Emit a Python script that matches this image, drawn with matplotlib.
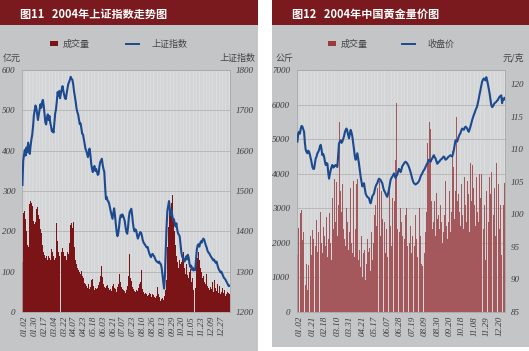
import matplotlib.pyplot as plt
from matplotlib.patches import Rectangle
from matplotlib.lines import Line2D

plt.rcParams['font.family'] = ['Noto Sans CJK SC', 'DejaVu Sans']

# ---- 图11 上证指数 (daily, 2004) ----
sh_dates = ['01.02', '01.30', '02.17', '03.04', '03.22', '04.07', '04.23', '05.18', '06.03', '06.21', '07.07',
            '07.23', '08.10', '08.26', '09.13', '09.29', '10.20', '11.05', '11.23', '12.09', '12.27']
sh_index = [1515, 1575, 1590, 1602, 1588, 1608, 1596, 1620, 1605, 1592,
            1612, 1628, 1640, 1660, 1688, 1700, 1712, 1705, 1690, 1676,
            1690, 1702, 1715, 1706, 1720, 1726, 1712, 1692, 1670, 1665,
            1682, 1690, 1676, 1686, 1670, 1660, 1648, 1652, 1645, 1668,
            1692, 1702, 1722, 1745, 1736, 1748, 1730, 1742, 1752, 1760,
            1748, 1738, 1730, 1728, 1742, 1754, 1765, 1770, 1776, 1783,
            1778, 1776, 1765, 1748, 1735, 1722, 1706, 1696, 1690, 1678,
            1666, 1668, 1655, 1642, 1640, 1628, 1615, 1605, 1600, 1592,
            1584, 1595, 1605, 1590, 1568, 1555, 1547, 1558, 1562, 1550,
            1555, 1548, 1540, 1542, 1560, 1572, 1575, 1580, 1565, 1555,
            1547, 1510, 1480, 1485, 1476, 1474, 1468, 1458, 1448, 1440,
            1431, 1445, 1457, 1440, 1420, 1400, 1388, 1395, 1410, 1430,
            1440, 1436, 1442, 1438, 1432, 1425, 1410, 1398, 1394, 1410,
            1435, 1448, 1452, 1456, 1440, 1420, 1406, 1400, 1405, 1402,
            1390, 1382, 1388, 1394, 1398, 1396, 1388, 1378, 1372, 1369,
            1366, 1362, 1360, 1361, 1352, 1345, 1340, 1336, 1342, 1344,
            1340, 1338, 1332, 1328, 1325, 1324, 1322, 1325, 1320, 1319,
            1310, 1292, 1275, 1258, 1290, 1350, 1410, 1450, 1462, 1475,
            1455, 1440, 1452, 1440, 1428, 1430, 1420, 1412, 1420, 1405,
            1395, 1392, 1388, 1370, 1350, 1338, 1335, 1330, 1325, 1332,
            1338, 1330, 1342, 1335, 1320, 1312, 1315, 1305, 1310, 1303,
            1306, 1304, 1330, 1355, 1365, 1368, 1362, 1370, 1375, 1372,
            1378, 1382, 1379, 1372, 1365, 1360, 1352, 1348, 1346, 1342,
            1338, 1335, 1332, 1328, 1330, 1326, 1322, 1325, 1318, 1310,
            1305, 1302, 1298, 1300, 1295, 1290, 1285, 1283, 1280, 1276,
            1272, 1268, 1264, 1265]
sh_volume = [125, 245, 238, 250, 230, 200, 165, 160, 170, 268,
             275, 270, 262, 272, 225, 218, 222, 255, 260, 248,
             240, 230, 205, 195, 180, 165, 150, 142, 135, 140,
             132, 128, 138, 135, 130, 140, 155, 150, 138, 130,
             135, 150, 220, 175, 150, 140, 160, 0, 148, 158,
             150, 140, 145, 138, 130, 150, 145, 125, 170, 215,
             220, 208, 222, 200, 160, 130, 120, 110, 105, 100,
             98, 95, 102, 90, 80, 85, 72, 70, 65, 60,
             75, 70, 58, 62, 80, 72, 82, 65, 55, 60,
             58, 52, 60, 68, 75, 90, 80, 115, 88, 70,
             62, 60, 72, 65, 68, 60, 55, 62, 58, 52,
             65, 70, 60, 55, 58, 50, 62, 70, 82, 95,
             75, 62, 58, 55, 60, 52, 48, 55, 65, 75,
             90, 145, 85, 78, 62, 55, 58, 52, 50, 55,
             48, 52, 60, 70, 75, 105, 80, 58, 50, 45,
             48, 42, 45, 40, 42, 48, 44, 40, 38, 45,
             42, 36, 32, 35, 40, 62, 45, 38, 30, 28,
             32, 35, 30, 28, 40, 55, 80, 160, 210, 240,
             265, 255, 270, 290, 260, 225, 200, 165, 140, 124,
             0, 110, 130, 118, 125, 140, 115, 150, 110, 95,
             120, 105, 92, 85, 100, 107, 75, 60, 85, 55,
             0, 60, 120, 140, 135, 150, 128, 110, 95, 100,
             85, 90, 75, 80, 70, 95, 65, 60, 55, 70,
             62, 58, 75, 50, 55, 80, 60, 52, 70, 48,
             55, 65, 45, 50, 60, 42, 48, 55, 40, 45,
             50, 42, 48, 45]

# ---- 图12 黄金 (daily, 2004) ----
au_dates = ['01.02', '01.21', '02.18', '03.10', '03.31', '04.21', '05.17', '06.07', '06.28',
            '07.19', '08.09', '08.30', '09.20', '10.18', '11.08', '11.29', '12.20']
au_price = [111.2, 112.5, 112.7, 112.4, 113.2, 113.6, 113.5, 113.1, 112.7, 111.0,
            109.9, 109.6, 109.4, 109.8, 109.6, 109.2, 108.6, 108.0, 107.3, 107.0,
            107.0, 107.8, 108.6, 108.9, 109.4, 109.6, 109.9, 110.4, 110.7, 110.0,
            109.1, 109.3, 108.9, 108.2, 107.6, 107.9, 107.8, 106.5, 105.5, 106.2,
            106.8, 107.3, 107.6, 107.2, 107.3, 107.5, 107.6, 107.4, 107.3, 109.2,
            110.9, 111.2, 111.4, 111.0, 111.2, 111.6, 112.0, 112.6, 113.0, 113.2,
            112.8, 112.2, 111.7, 112.4, 113.0, 112.6, 112.0, 111.0, 109.9, 109.0,
            108.4, 108.9, 109.4, 108.6, 107.8, 106.8, 105.8, 105.0, 104.3, 104.6,
            104.8, 104.0, 103.2, 102.9, 102.7, 102.6, 102.5, 102.0, 101.7, 102.2,
            102.8, 103.0, 103.2, 103.8, 104.3, 104.6, 104.8, 105.2, 105.5, 105.4,
            105.3, 105.0, 104.8, 104.2, 103.7, 103.5, 103.2, 102.9, 102.7, 103.2,
            103.8, 104.6, 105.3, 105.6, 105.8, 106.0, 106.3, 106.0, 105.6, 105.9,
            106.1, 106.6, 107.0, 106.8, 106.5, 106.9, 107.4, 107.6, 107.8, 108.0,
            108.1, 108.0, 107.8, 107.6, 107.3, 106.9, 106.5, 106.0, 105.5, 105.1,
            104.8, 104.7, 104.6, 104.7, 104.8, 104.9, 105.1, 105.4, 105.8, 106.1,
            106.3, 106.6, 106.8, 107.0, 107.3, 107.6, 107.8, 108.1, 108.4, 108.3,
            108.1, 108.4, 108.6, 108.9, 109.1, 108.8, 108.6, 108.2, 107.8, 107.9,
            108.1, 108.2, 108.4, 108.5, 108.6, 108.8, 108.9, 108.7, 108.4, 108.5,
            108.6, 108.8, 108.9, 109.0, 109.1, 109.0, 108.9, 109.3, 109.9, 110.7,
            111.4, 111.3, 111.2, 111.6, 112.0, 112.3, 112.5, 112.9, 113.2, 113.1,
            113.0, 113.3, 113.5, 113.4, 113.2, 112.9, 112.7, 113.1, 113.5, 114.0,
            114.5, 114.9, 115.3, 115.6, 116.0, 116.3, 116.6, 117.2, 117.8, 118.5,
            119.1, 119.8, 120.4, 120.7, 120.9, 120.8, 120.6, 121.1, 120.6, 120.0,
            119.3, 118.6, 117.7, 116.8, 116.5, 116.6, 116.9, 117.1, 117.2, 117.3,
            117.5, 117.6, 117.9, 118.1, 118.2, 118.3, 117.1, 117.8, 117.6, 117.9]
au_volume = [1650, 2420, 2350, 2100, 2850, 2950, 2080, 2300, 2850, 1900,
             780, 1400, 640, 1350, 1800, 2600, 2200, 1650, 2370, 2100,
             1600, 2500, 1900, 2650, 1750, 2300, 2100, 1500, 2900, 2000,
             1700, 2450, 1350, 2200, 1900, 2750, 1600, 2100, 1800, 2850,
             2000, 1500, 3300, 2400, 1700, 3850, 2600, 3760, 2200, 3100,
             2700, 5500, 3500, 2900, 3700, 2400, 3400, 2100, 1900, 3000,
             2600, 1800, 3500, 2300, 3600, 2000, 1700, 3800, 2600, 1600,
             2400, 3700, 3850, 1500, 2900, 1800, 1300, 2200, 1000, 1700,
             1200, 1800, 925, 1400, 2100, 1750, 1300, 1850, 1200, 2300,
             1500, 2000, 1700, 2800, 3100, 2500, 3600, 3300, 2400, 3800,
             2200, 3500, 2700, 3100, 2000, 2600, 1700, 2400, 1600, 2900,
             2200, 3530, 2500, 1900, 3300, 5900, 2800, 3200, 4400, 6050,
             2400, 4400, 2900, 2300, 3000, 2600, 2200, 3400, 2500, 2100,
             2800, 3000, 1900, 2600, 2300, 2000, 2500, 1700, 2200, 1500,
             2300, 1900, 2800, 2100, 1600, 2400, 1800, 3000, 2200, 1400,
             1320, 2000, 2500, 1700, 2300, 2900, 4900, 3100, 4300, 5500,
             5300, 3200, 2400, 3000, 2600, 3200, 2200, 3440, 2700, 2100,
             2800, 2400, 3100, 2600, 2000, 3300, 2300, 2800, 3800, 2500,
             2100, 3000, 2600, 3500, 2300, 2900, 4660, 3000, 4180, 2700,
             3500, 5650, 3200, 2600, 3400, 2900, 2500, 3700, 2800, 3300,
             2400, 3900, 3100, 2600, 3800, 2900, 3400, 2300, 4310, 3200,
             4240, 2800, 3600, 3100, 2500, 3900, 2900, 3400, 2600, 4000,
             3300, 4000, 2700, 3600, 2400, 3100, 1500, 3500, 2800, 3300,
             2600, 3900, 3400, 4050, 3000, 4780, 2800, 3600, 2200, 4300,
             3400, 2900, 3700, 2400, 3100, 1650, 2900, 2280, 3100, 3730]

W, H = 529, 351
RED = '#7a1a1e'
PANEL = '#c4c5c7'
PLOT_BG = '#d4d5d7'
TICK_C = '#3c3c3c'
LINE_C = '#1c4a90'
SERIF = {'family': 'Liberation Serif', 'style': 'italic', 'size': 6.5}

fig = plt.figure(figsize=(W / 100, H / 100), dpi=100)
fig.patch.set_facecolor('white')


def fx(px):
    return px / W


def fy(py):
    return 1 - py / H


def panel(x0, x1, bottom, title):
    fig.add_artist(Rectangle((fx(x0), fy(bottom)), fx(x1 - x0), (bottom - 25) / H,
                             facecolor=PANEL, edgecolor='none', zorder=-2))
    fig.add_artist(Rectangle((fx(x0), fy(25)), fx(x1 - x0), 25 / H,
                             facecolor=RED, edgecolor='none', zorder=-2))
    fig.text(fx(x0 + 20), fy(14), title, color='white', fontsize=8, fontweight='bold', va='center')


def legend(sq_x, bar_label, line_x, line_label, bar_color):
    fig.add_artist(Rectangle((fx(sq_x), fy(46)), fx(8), 5 / H, facecolor=bar_color, edgecolor='none'))
    fig.text(fx(sq_x + 13), fy(44), bar_label, fontsize=6.5, color='#444444', va='center')
    fig.add_artist(Line2D([fx(line_x), fx(line_x + 13)], [fy(44), fy(44)], color=LINE_C, lw=1.4))
    fig.text(fx(line_x + 25), fy(44), line_label, fontsize=6.5, color='#444444', va='center')


def chart(x0, bars, line, bar_color, bar_width, ylim_l, yticks_l, ylim_r, yticks_r,
          dates, step, unit_l, unit_r, ul_x, ur_x):
    n = len(bars)
    ax = fig.add_axes([fx(x0), fy(312), 208 / W, 242 / H])
    ax.set_facecolor(PLOT_BG)
    days = list(range(n))
    ax.bar(days, bars, width=bar_width, color=bar_color, linewidth=0, zorder=2)
    ax.set_xlim(-0.5, n - 0.5)
    ax.set_ylim(*ylim_l)
    ax.set_yticks(yticks_l)
    ax.set_xticks([k * step + 3 for k in range(len(dates))])
    ax.set_xticklabels(dates, rotation=90, fontdict=SERIF, color=TICK_C)
    ax.set_xticks(range(0, n, 4), minor=True)
    ax.grid(axis='x', which='minor', color='#e2e2e2', lw=0.4, zorder=0)
    ax.grid(axis='y', which='major', color='#b4b4b4', lw=0.6, zorder=1)
    ax.set_axisbelow(True)
    ax.tick_params(which='both', length=0)
    ax.tick_params(axis='y', pad=5)
    ax.tick_params(axis='x', pad=3)
    for lab in ax.get_yticklabels():
        lab.set_fontproperties(SERIF)
        lab.set_color(TICK_C)
    for s in ax.spines.values():
        s.set_color('#a8a8a8')
        s.set_linewidth(0.6)

    ax2 = ax.twinx()
    ax2.plot(days, line, color=LINE_C, lw=1.5, zorder=3)
    ax2.set_ylim(*ylim_r)
    ax2.set_yticks(yticks_r)
    ax2.tick_params(length=0, pad=4)
    for lab in ax2.get_yticklabels():
        lab.set_fontproperties(SERIF)
        lab.set_color(TICK_C)
    for s in ax2.spines.values():
        s.set_visible(False)

    fig.text(fx(ul_x), fy(58), unit_l, fontsize=6.5, color='#444444', va='center')
    fig.text(fx(ur_x), fy(58), unit_r, fontsize=6.5, color='#444444', va='center', ha='right')


panel(0, 258, 351, '图11   2004年上证指数走势图')
panel(272, 529, 347, '图12   2004年中国黄金量价图')

legend(50, '成交量', 126, '上证指数', '#7a1417')
legend(328, '成交量', 402, '收盘价', '#9c3a3e')

chart(22, sh_volume, sh_index, '#7a1417', 1.0, (0, 600), range(0, 601, 100),
      (1200, 1800), range(1200, 1801, 100), sh_dates, 12, '亿元', '上证指数', 3, 256)
chart(297, au_volume, au_price, '#a4585c', 0.9, (0, 7000), range(0, 7001, 1000),
      (85, 122.2), range(85, 121, 5), au_dates, 15, '公斤', '元/克', 276, 524)

fig.savefig('out.png', dpi=100)
